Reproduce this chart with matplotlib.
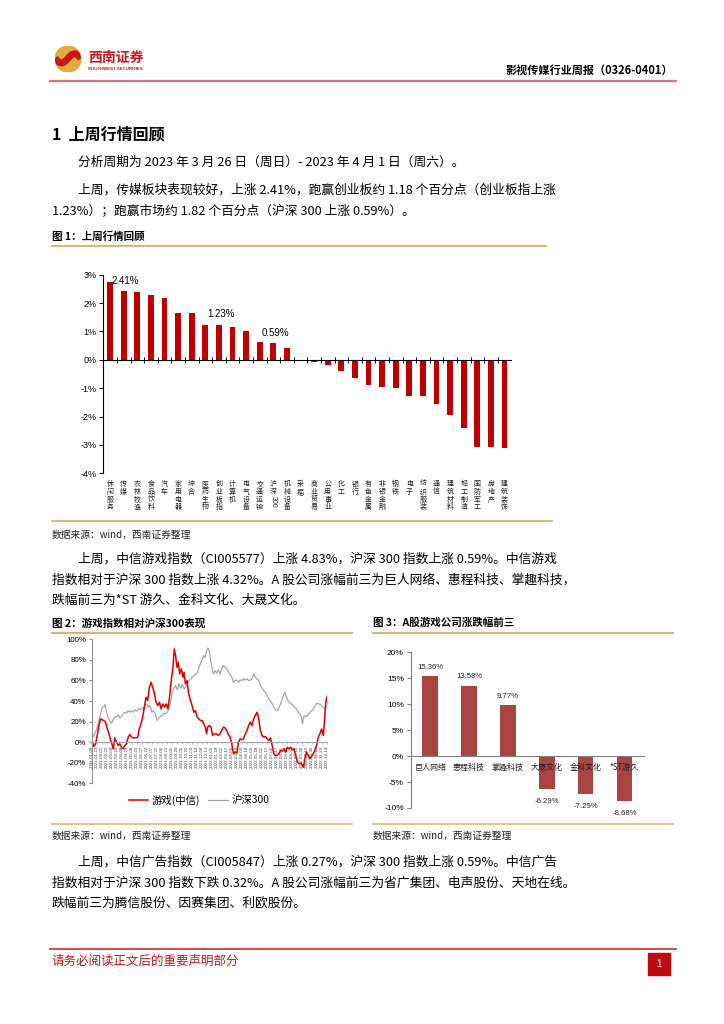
import re
import matplotlib
matplotlib.use('Agg')
import matplotlib.pyplot as plt
import matplotlib.transforms as mtransforms
from matplotlib.lines import Line2D
from matplotlib.patches import Circle, Rectangle
import numpy as np
import pandas as pd

plt.rcParams['font.family'] = ['Noto Sans CJK SC', 'DejaVu Sans']
plt.rcParams['axes.unicode_minus'] = False
ARIAL = ['Liberation Sans', 'Noto Sans CJK SC']

# %% data -- fig 1: last week's sector moves (%)
industries = ['休闲服务', '传媒', '农林牧渔', '食品饮料', '汽车', '家用电器', '综合', '医药生物',
              '创业板指', '计算机', '电气设备', '交通运输', '沪深300', '机械设备', '采掘', '商业贸易',
              '公用事业', '化工', '银行', '有色金属', '非银金融', '钢铁', '电子', '纺织服装', '通信',
              '建筑材料', '轻工制造', '国防军工', '房地产', '建筑装饰']
industry_chg = [2.75, 2.41, 2.40, 2.30, 2.18, 1.64, 1.64, 1.22, 1.23, 1.16, 1.03, 0.64, 0.59, 0.42,
                0.01, -0.07, -0.19, -0.39, -0.64, -0.88, -0.97, -1.01, -1.26, -1.29, -1.55, -1.93,
                -2.41, -3.08, -3.08, -3.11]
marked = {'传媒': '2.41%', '创业板指': '1.23%', '沪深300': '0.59%'}

# fig 2: cumulative move (%), x = trading-day index
game_t = [0, 7, 12, 17, 22, 27, 32, 37, 42, 47, 52, 57, 62, 65, 69, 74, 79, 84, 89, 94, 99, 104,
          109, 114, 119, 124, 132, 137, 142, 147, 152, 157, 162, 167, 172, 177, 182, 187, 192, 197,
          202, 207, 212, 217, 222, 227, 232, 237, 242, 246, 250, 254, 258, 262, 267, 272, 275, 279,
          284, 289, 294, 299, 304, 309, 314, 319, 324, 329, 334, 339, 342, 345, 350, 355, 360, 365,
          372, 377, 382, 387, 392, 397, 402, 407, 412, 417, 422, 427, 432, 437, 442, 447, 452, 457,
          462, 467, 472, 477, 482, 487, 492, 497, 502, 507, 512, 517, 522, 527, 532, 537, 542, 547,
          552, 557, 562, 567, 572, 577, 582, 587, 592, 597, 602, 607, 612, 617, 622, 627, 630, 634,
          639, 644, 649, 654, 659, 664, 669, 674, 679, 684, 689, 692, 695, 699]
game_pct = [3.2, -4.2, -1.6, 6.5, 16.2, 22.7, 21.7, 21.0, 19.4, 12.9, 8.1, 1.6, -3.2, -6.5, 4.2, 0.0,
            -3.2, -1.6, -4.9, -6.5, -3.2, -1.6, 4.9, 7.4, 4.9, 4.2, 4.2, 4.9, 12.9, 17.8, 24.3, 34.0,
            43.7, 40.5, 53.4, 58.2, 53.4, 46.9, 38.8, 35.6, 38.8, 32.4, 37.2, 34.0, 37.2, 32.4, 43.7,
            59.9, 72.8, 90.6, 84.1, 72.8, 77.7, 66.3, 71.2, 63.1, 68.0, 56.6, 59.9, 46.9, 40.5, 35.6,
            29.1, 30.7, 24.3, 22.7, 21.0, 21.0, 17.8, 13.9, 8.1, 14.6, 16.2, 14.6, 6.5, 8.1, 8.1, 6.5,
            8.1, 11.3, 14.6, 13.9, 11.3, 7.4, 4.9, -1.6, -11.3, -9.7, -10.7, 0.0, 3.2, 2.3, 3.2, 8.1,
            11.3, 16.2, 19.4, 16.2, 22.7, 25.9, 29.1, 22.7, 11.3, 6.5, 4.9, 5.5, 3.2, 1.6, 4.2, -3.2,
            -11.3, -12.9, -12.9, -11.3, -8.1, -8.7, -6.5, -9.7, -4.9, -6.5, -4.9, -7.4, -6.5, -12.9,
            -19.4, -21.0, -20.4, -22.7, -24.3, -16.2, -9.7, -12.9, -16.2, -13.9, -11.3, -8.1, -3.2,
            4.9, 8.1, 12.9, 6.5, 17.8, 34.0, 43.7]
hs300_t = [0, 7, 12, 17, 22, 27, 32, 37, 40, 44, 49, 54, 59, 64, 69, 74, 79, 84, 89, 94, 99, 104,
           109, 114, 119, 124, 129, 134, 139, 144, 149, 154, 159, 164, 169, 174, 179, 184, 190, 195,
           200, 205, 210, 215, 220, 225, 230, 235, 240, 245, 250, 255, 260, 265, 270, 275, 280, 285,
           290, 295, 300, 305, 310, 315, 320, 325, 330, 334, 338, 342, 346, 350, 354, 358, 362, 367,
           372, 377, 382, 387, 392, 397, 402, 407, 412, 417, 422, 427, 432, 437, 442, 447, 452, 457,
           462, 467, 472, 477, 482, 487, 492, 497, 502, 507, 512, 517, 522, 527, 532, 537, 542, 547,
           552, 557, 562, 567, 572, 575, 579, 584, 589, 594, 599, 604, 609, 614, 619, 624, 627, 630,
           635, 640, 645, 650, 655, 660, 665, 670, 675, 680, 685, 690, 695, 699]
hs300_pct = [3.2, 6.5, 9.7, 14.6, 21.0, 27.5, 34.0, 34.6, 36.6, 30.7, 24.3, 21.0, 18.4, 21.0, 24.9,
             24.3, 26.9, 23.6, 24.9, 27.5, 29.1, 28.2, 30.7, 29.1, 30.7, 29.1, 31.4, 30.1, 32.4, 31.4,
             33.3, 32.4, 35.6, 37.2, 34.0, 35.6, 29.1, 30.7, 27.5, 21.0, 23.6, 24.9, 25.9, 28.2, 27.5,
             29.1, 32.4, 38.8, 48.5, 52.7, 55.0, 50.8, 56.6, 52.7, 56.0, 51.8, 54.0, 56.6, 59.9, 61.5,
             63.1, 64.7, 66.3, 68.0, 72.8, 77.7, 80.9, 84.1, 82.5, 89.0, 91.6, 89.0, 79.3, 72.8, 66.3,
             69.6, 67.0, 70.2, 66.3, 71.2, 74.4, 72.8, 71.2, 68.0, 66.3, 63.1, 58.2, 59.9, 60.5, 58.2,
             60.5, 59.9, 61.5, 60.5, 61.5, 59.9, 60.5, 61.5, 66.3, 63.1, 61.5, 59.9, 55.0, 52.7, 50.2,
             48.5, 45.3, 42.1, 39.8, 37.2, 34.0, 31.4, 30.7, 33.3, 37.2, 42.1, 46.9, 48.5, 43.7, 40.5,
             38.8, 37.2, 35.6, 34.0, 32.4, 29.1, 27.5, 24.3, 17.8, 23.6, 25.9, 24.9, 27.5, 29.1, 30.7,
             32.4, 35.6, 37.9, 37.2, 36.6, 35.3, 33.3, 32.4, 34.0]
date_labels = [d.strftime('%Y-%m-%d') for d in pd.date_range('2021-01-08', periods=48, freq='15D')]

# fig 3: top gainers / losers (%)
companies = ['巨人网络', '惠程科技', '掌趣科技', '大晟文化', '金科文化', '*ST游久']
company_chg = [15.36, 13.58, 9.77, -6.29, -7.29, -8.68]

# page text
para1 = '分析周期为 2023 年 3 月 26 日（周日）- 2023 年 4 月 1 日（周六）。'
para2 = ['上周，传媒板块表现较好，上涨 2.41%，跑赢创业板约 1.18 个百分点（创业板指上涨',
         '1.23%）；跑赢市场约 1.82 个百分点（沪深 300 上涨 0.59%）。']
para3 = ['上周，中信游戏指数（CI005577）上涨 4.83%，沪深 300 指数上涨 0.59%。中信游戏',
         '指数相对于沪深 300 指数上涨 4.32%。A 股公司涨幅前三为巨人网络、惠程科技、掌趣科技，',
         '跌幅前三为*ST 游久、金科文化、大晟文化。']
para4 = ['上周，中信广告指数（CI005847）上涨 0.27%，沪深 300 指数上涨 0.59%。中信广告',
         '指数相对于沪深 300 指数下跌 0.32%。A 股公司涨幅前三为省广集团、电声股份、天地在线。',
         '跌幅前三为腾信股份、因赛集团、利欧股份。']
source = '数据来源：wind，西南证券整理'

# %% page helpers (pixel coords, y from the top)
W, H = 724, 1024
fig = plt.figure(figsize=(W / 100, H / 100), dpi=100)
fig.patch.set_facecolor('white')
TAN = '#E2B27A'
BODY = 9.2


def put(x, y, s, **kw):
    kw.setdefault('va', 'center')
    fig.text(x / W, 1 - y / H, s, **kw)


def hline(x0, x1, y, color, lw):
    fig.add_artist(Line2D([x0 / W, x1 / W], [1 - y / H, 1 - y / H], color=color, lw=lw,
                          transform=fig.transFigure))


def box(x0, x1, y0, y1):
    return [x0 / W, 1 - y1 / H, (x1 - x0) / W, (y1 - y0) / H]


# header + logo
logo = fig.add_axes(box(55, 81, 46, 72))
logo.set_aspect('equal')
logo.set_xlim(-1, 1)
logo.set_ylim(-1, 1)
logo.axis('off')
disc = Circle((0, 0), 1, color='#E6A93E')
logo.add_patch(disc)
s = np.linspace(-1, 1, 60)
swoosh, = logo.plot(s, 0.35 * np.sin(np.pi * s) + 0.05, color='#C8161D', lw=5, solid_capstyle='butt')
swoosh.set_clip_path(disc)
put(88, 58, '西南证券', fontsize=10, weight='bold', color='#C8161D')
put(88, 69.5, 'SOUTHWEST SECURITIES', fontsize=3.2, weight='bold', color='#C8161D', family=ARIAL)
put(673, 70, '影视传媒行业周报（0326-0401）', ha='right', fontsize=8, weight='bold')
hline(50, 676, 81, '#D9747B', 1.6)

put(52, 134, '1  上周行情回顾', fontsize=11.5, weight='bold')
put(78, 162, para1, fontsize=BODY)
put(78, 190, para2[0], fontsize=BODY)
put(52, 211, para2[1], fontsize=BODY)

# %% fig 1
put(52, 237, '图 1：上周行情回顾', fontsize=7.6, weight='bold')
hline(52, 546, 246, TAN, 1.5)

ax1 = fig.add_axes(box(103.3, 511.3, 274.7, 473.3))
xpos = np.arange(len(industries))
ax1.bar(xpos, industry_chg, width=0.42, color='#C00000')
ax1.set_xlim(-0.5, len(industries) - 0.5)
ax1.set_ylim(-4, 3)
for side in ['top', 'right']:
    ax1.spines[side].set_visible(False)
ax1.spines['bottom'].set_position(('data', 0))
ax1.spines['left'].set_linewidth(0.8)
ax1.spines['bottom'].set_linewidth(0.8)
ax1.set_yticks(range(-4, 4))
ax1.set_yticklabels([f'{v}%' for v in range(-4, 4)], family=ARIAL)
ax1.tick_params(axis='y', direction='out', length=3, labelsize=6.5, pad=2, width=0.7)
ax1.set_xticks(xpos[:-1] + 0.5)
ax1.set_xticklabels([])
ax1.tick_params(axis='x', direction='inout', length=4, width=0.7)

lab_trans = mtransforms.blended_transform_factory(ax1.transData, ax1.transAxes)
STEP = 5.6
for i, name in enumerate(industries):
    cjk, num = re.match(r'^(\D*)(\d*)$', name).groups()
    for k, ch in enumerate(cjk):
        ax1.annotate(ch, xy=(i, -0.034), xycoords=lab_trans, xytext=(0, -k * STEP),
                     textcoords='offset points', ha='center', va='top', fontsize=5.0, color='#222222')
    if num:
        ax1.annotate(num, xy=(i, -0.034), xycoords=lab_trans, xytext=(0, -len(cjk) * STEP),
                     textcoords='offset points', ha='center', va='top', fontsize=5.0,
                     rotation=-90, color='#222222', family=ARIAL)

for name, txt in marked.items():
    i = industries.index(name)
    ax1.annotate(txt, xy=(i, industry_chg[i]), xytext=(1.5, 4), textcoords='offset points',
                 ha='center', va='bottom', fontsize=7, family=ARIAL)

hline(52, 552, 521, '#E3A561', 1.2)
put(52, 535, source, fontsize=7, style='italic', color='#222222')

put(78, 559, para3[0], fontsize=BODY)
put(52, 580, para3[1], fontsize=BODY)
put(52, 600, para3[2], fontsize=BODY)

# %% fig 2
put(52, 623, '图 2：游戏指数相对沪深300表现', fontsize=7.6, weight='bold')
hline(52, 352, 633, TAN, 1.5)
ax2 = fig.add_axes(box(91.5, 327, 639.3, 783.3))
ax2.plot(hs300_t, hs300_pct, color='#A6A6A6', lw=0.9, label='沪深300')
ax2.plot(game_t, game_pct, color='#E00000', lw=1.1, label='游戏(中信)')
ax2.set_xlim(0, 700)
ax2.set_ylim(-40, 100)
for side in ['top', 'right']:
    ax2.spines[side].set_visible(False)
ax2.spines['bottom'].set_position(('data', 0))
ax2.spines['bottom'].set_color('#A6A6A6')
ax2.spines['left'].set_color('#909090')
ax2.set_yticks(range(-40, 101, 20))
ax2.set_yticklabels([f'{v}%' for v in range(-40, 101, 20)], family=ARIAL)
ax2.tick_params(axis='y', direction='out', length=2, labelsize=5.7, pad=2, color='#909090')
ax2.set_xticks(np.linspace(0, 699, len(date_labels)))
ax2.set_xticklabels(date_labels, rotation=90, fontsize=3.2, color='#404040', family=ARIAL)
ax2.tick_params(axis='x', direction='out', length=1.5, pad=1, color='#A6A6A6', width=0.5)
h, l = ax2.get_legend_handles_labels()
ax2.legend(h[::-1], l[::-1], loc='center', bbox_to_anchor=(0.456, -0.116), ncol=2, frameon=False,
           fontsize=7.5, handlelength=1.9, handletextpad=0.3, columnspacing=0.8)
hline(52, 352, 824, TAN, 1.2)
put(52, 836, source, fontsize=7, style='italic', color='#222222')

# %% fig 3
put(373, 623, '图 3：A股游戏公司涨跌幅前三', fontsize=7.6, weight='bold')
hline(373, 673, 633, TAN, 1.5)
ax3 = fig.add_axes(box(410.7, 644, 652.3, 808))
cpos = np.arange(len(companies))
ax3.bar(cpos, company_chg, width=0.4, color='#A94442')
ax3.set_xlim(-0.5, len(companies) - 0.5)
ax3.set_ylim(-10, 20)
for side in ['top', 'right']:
    ax3.spines[side].set_visible(False)
ax3.spines['bottom'].set_position(('data', 0))
ax3.spines['bottom'].set_color('#808080')
ax3.spines['left'].set_color('#808080')
ax3.set_yticks(range(-10, 21, 5))
ax3.set_yticklabels([f'{v}%' for v in range(-10, 21, 5)], family=ARIAL)
ax3.tick_params(axis='y', direction='out', length=3, labelsize=6, pad=2, color='#808080')
ax3.set_xticks([])
for i, (name, v) in enumerate(zip(companies, company_chg)):
    ax3.annotate(name, xy=(i, 0), xytext=(0, -8), textcoords='offset points', ha='center',
                 va='center', fontsize=5.8, color='#222222')
    ax3.annotate(f'{v:.2f}%', xy=(i, v), xytext=(0, 6.5 if v > 0 else -9), textcoords='offset points',
                 ha='center', va='center', fontsize=5.6, family=ARIAL, color='#222222')
hline(373, 673, 824, TAN, 1.2)
put(373, 836, source, fontsize=7, style='italic', color='#222222')

put(78, 862, para4[0], fontsize=BODY)
put(52, 883, para4[1], fontsize=BODY)
put(52, 903, para4[2], fontsize=BODY)

# %% footer
hline(50, 676, 949, '#D7262E', 1.2)
put(52, 961, '请务必阅读正文后的重要声明部分', fontsize=9, color='#C8161D')
fig.add_artist(Rectangle((648 / W, 1 - 975 / H), 22 / W, 22 / H, color='#C00A12',
                         transform=fig.transFigure))
put(659, 964, '1', fontsize=7, color='white', ha='center', family=ARIAL)

fig.savefig('out.png', dpi=100)
